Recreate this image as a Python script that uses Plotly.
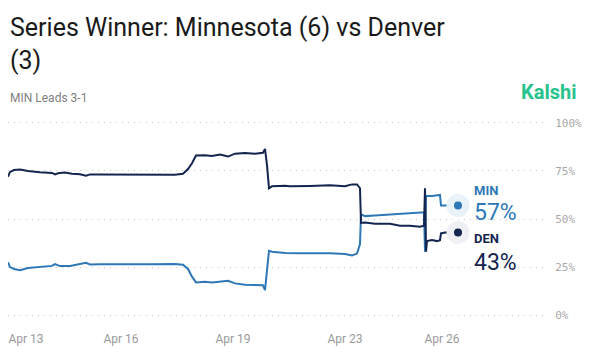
import plotly.graph_objects as go

# sample index (time axis, uneven sampling)
den_t = [0, 2, 6, 12, 20, 32, 44, 47, 50, 57, 64, 72, 78, 82, 92, 112, 142, 167, 175, 180, 184, 188,
         197, 204, 212, 220, 227, 237, 247, 255, 257, 259, 261, 264, 277, 282, 302, 322, 337, 344, 349,
         352, 353, 357, 367, 382, 392, 402, 412, 416, 417, 418, 419, 424, 429, 432, 433, 437, 442, 450]
den_v = [72, 74.5, 75.5, 75.8, 75, 74.3, 74, 73.2, 73.8, 74.2, 73.5, 73.3, 72.5, 73.2, 73.1, 73, 73, 73,
         73.5, 76, 79, 83, 83.2, 82.8, 83.5, 82.5, 84, 84.3, 84, 84.5, 86.5, 78, 66, 67, 67.3, 67, 67.2,
         67.5, 67, 68, 68, 66, 48, 48.2, 47.5, 47.5, 46.5, 46.5, 46, 46.5, 66, 33, 38.5, 39, 38.5, 39,
         42.5, 43, 43, 43]

min_t = [0, 2, 6, 12, 20, 32, 44, 47, 52, 62, 72, 78, 82, 92, 142, 167, 175, 180, 184, 188, 197, 204,
         220, 227, 237, 247, 255, 257, 259, 261, 264, 277, 292, 322, 337, 344, 349, 352, 353, 357, 367,
         382, 392, 402, 412, 416, 417, 418, 424, 429, 432, 433, 437, 450]
min_v = [27.5, 25, 24, 23.4, 24.5, 25.2, 25.6, 26.5, 25.5, 25.6, 26.5, 27.2, 26.3, 26.5, 26.5, 26.6,
         26.2, 24, 20, 17, 17.3, 17, 17.8, 16.5, 15.8, 15.8, 15.5, 13, 25, 33.5, 33, 32.3, 32.2, 32.2,
         31.8, 31, 32, 37, 52.5, 51.5, 51.8, 52.3, 53, 53.2, 53.5, 53.5, 33, 62, 62, 62.5, 62.5, 57, 57, 57]

tick_vals = [18, 113, 225, 337, 434]
tick_text = ["Apr 13", "Apr 16", "Apr 19", "Apr 23", "Apr 26"]
y_ticks = [0, 25, 50, 75, 100]
y_text = ["0%", "25%", "50%", "75%", "100%"]

MIN_C = "#2e78b7"
DEN_C = "#14254f"

fig = go.Figure()
fig.add_trace(go.Scatter(x=min_t, y=min_v, mode="lines", line=dict(color=MIN_C, width=2), hoverinfo="skip"))
fig.add_trace(go.Scatter(x=den_t, y=den_v, mode="lines", line=dict(color=DEN_C, width=2), hoverinfo="skip"))

# end markers with halos
fig.add_trace(go.Scatter(x=[min_t[-1]], y=[min_v[-1]], mode="markers",
                         marker=dict(size=23, color="#e9f1f9"), hoverinfo="skip"))
fig.add_trace(go.Scatter(x=[den_t[-1]], y=[den_v[-1]], mode="markers",
                         marker=dict(size=23, color="#eef0f3"), hoverinfo="skip"))
fig.add_trace(go.Scatter(x=[min_t[-1]], y=[min_v[-1]], mode="markers",
                         marker=dict(size=8, color=MIN_C), hoverinfo="skip"))
fig.add_trace(go.Scatter(x=[den_t[-1]], y=[den_v[-1]], mode="markers",
                         marker=dict(size=8, color=DEN_C), hoverinfo="skip"))

lx = den_t[-1] + 14
NUMFONT = "Roboto"
fig.add_annotation(x=lx, y=min_v[-1] + 8, text="<b>MIN</b>", showarrow=False, xanchor="left",
                   font=dict(family="Roboto", size=13, color=MIN_C))
fig.add_annotation(x=lx, y=min_v[-1] - 3.5, text=f"{min_v[-1]:.0f}%", showarrow=False, xanchor="left",
                   font=dict(family=NUMFONT, size=23, color=MIN_C))
fig.add_annotation(x=lx, y=den_v[-1] - 3, text="<b>DEN</b>", showarrow=False, xanchor="left",
                   font=dict(family="Roboto", size=13, color=DEN_C))
fig.add_annotation(x=lx, y=den_v[-1] - 15.5, text=f"{den_v[-1]:.0f}%", showarrow=False, xanchor="left",
                   font=dict(family=NUMFONT, size=23, color=DEN_C))

# title, subtitle, brand
fig.add_annotation(xref="paper", yref="paper", x=0.0, y=1.56, text="Series Winner: Minnesota (6) vs Denver<br>(3)",
                   showarrow=False, xanchor="left", yanchor="top", align="left",
                   font=dict(family="Roboto", size=25, color="#1a1a1a"))
fig.add_annotation(xref="paper", yref="paper", x=0.0, y=1.117, text="MIN Leads 3-1", showarrow=False,
                   xanchor="left", yanchor="middle", font=dict(family="Roboto", size=12, color="#808080"))
fig.add_annotation(xref="paper", yref="paper", x=1.0556, y=1.148, text="<b>Kalshi</b>", showarrow=False,
                   xanchor="right", yanchor="middle", font=dict(family="Roboto", size=20, color="#28c38c"))

fig.update_layout(
    width=589, height=353,
    margin=dict(l=8, r=41, t=121, b=36),
    paper_bgcolor="white", plot_bgcolor="white",
    showlegend=False,
    xaxis=dict(range=[0, 540], tickvals=tick_vals, ticktext=tick_text, showgrid=False, zeroline=False,
               showline=False, ticks="outside", ticklen=11, tickcolor="rgba(0,0,0,0)",
               tickfont=dict(family="Roboto", size=12, color="#9a9a9a")),
    yaxis=dict(range=[-1, 101], tickvals=y_ticks, ticktext=y_text, side="right", showgrid=True,
               gridcolor="#c8c8c8", griddash="1px,5px", gridwidth=1, zeroline=False, showline=False,
               ticks="outside", ticklen=4, tickcolor="rgba(0,0,0,0)",
               tickfont=dict(family="DejaVu Sans Mono", size=11, color="#a8a8a8")),
)

fig.write_html("out.html")
